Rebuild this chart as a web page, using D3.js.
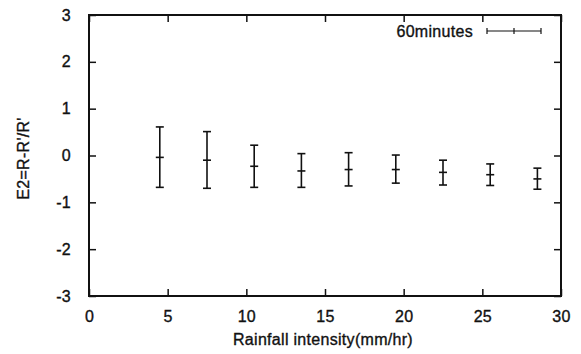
<!DOCTYPE html>
<html>
<head>
<meta charset="utf-8">
<script src="https://cdn.jsdelivr.net/npm/d3@7"></script>
<style>
  body { margin: 0; background: #fff; }
  text { font-family: "Liberation Sans", Arial, sans-serif; fill: #111; }
</style>
</head>
<body>
<div id="Chart"></div>
<script>
// data
var intensity = [4.5, 7.5, 10.5, 13.5, 16.5, 19.5, 22.5, 25.5, 28.5];
var meanE2   = [-0.04, -0.10, -0.23, -0.33, -0.30, -0.30, -0.36, -0.41, -0.50];
var upperE2  = [0.61, 0.51, 0.22, 0.04, 0.06, 0.01, -0.10, -0.18, -0.27];
var lowerE2  = [-0.68, -0.70, -0.68, -0.68, -0.65, -0.59, -0.63, -0.64, -0.72];
var xTicks = [0, 5, 10, 15, 20, 25, 30];
var yTicks = [-3, -2, -1, 0, 1, 2, 3];
var legendLabel = "60minutes";

var margin = {top: 15, right: 20, bottom: 58, left: 89},
    width = 581 - margin.left - margin.right,
    height = 354 - margin.top - margin.bottom;

var svg = d3.select("#Chart")
            .append("svg")
            .attr("width", 581)
            .attr("height", 354);
var g = svg.append("g")
           .attr("transform", "translate(" + margin.left + "," + margin.top + ")");

var x = d3.scaleLinear().domain([0, 30]).range([0, width]);
var y = d3.scaleLinear().domain([-3, 3]).range([height, 0]);

var tickLen = 7;
var fmt = d => String(d);   // plain hyphen, no decimals

// bottom axis with labels, ticks pointing inward
var xAxis = g.append("g")
    .attr("transform", "translate(0," + height + ")")
    .call(d3.axisBottom(x).tickValues(xTicks).tickFormat(fmt).tickSizeInner(-tickLen).tickSizeOuter(0).tickPadding(15));
var yAxis = g.append("g")
    .call(d3.axisLeft(y).tickValues(yTicks).tickFormat(fmt).tickSizeInner(-tickLen).tickSizeOuter(0).tickPadding(18));
// mirrored ticks top and right
var xTop = g.append("g")
    .call(d3.axisTop(x).tickValues(xTicks).tickSizeInner(-tickLen).tickSizeOuter(0).tickFormat(""));
var yRight = g.append("g")
    .attr("transform", "translate(" + width + ",0)")
    .call(d3.axisRight(y).tickValues(yTicks).tickSizeInner(-tickLen).tickSizeOuter(0).tickFormat(""));

[xAxis, yAxis, xTop, yRight].forEach(function(a){
    a.select(".domain").remove();
    a.selectAll(".tick line").attr("stroke", "#111").attr("stroke-width", 1.5);
    a.selectAll(".tick text").attr("class", "lbl").attr("font-size", 16).attr("fill", "#111")
     .style("font-family", "'Liberation Sans', Arial, sans-serif");
});

// frame
g.append("rect")
 .attr("x", 0).attr("y", 0)
 .attr("width", width).attr("height", height)
 .attr("fill", "none")
 .attr("stroke", "#111")
 .attr("stroke-width", 2);

// error bars
var cap = 4;
var bars = g.selectAll(".ebar")
    .data(intensity.map((d, i) => ({x: d, m: meanE2[i], hi: upperE2[i], lo: lowerE2[i]})))
    .enter().append("g")
    .attr("class", "ebar")
    .attr("stroke", "#111")
    .attr("stroke-width", 1.6);

bars.append("line")
    .attr("x1", d => x(d.x)).attr("x2", d => x(d.x))
    .attr("y1", d => y(d.hi)).attr("y2", d => y(d.lo));
bars.append("line")
    .attr("x1", d => x(d.x) - cap).attr("x2", d => x(d.x) + cap)
    .attr("y1", d => y(d.hi)).attr("y2", d => y(d.hi));
bars.append("line")
    .attr("x1", d => x(d.x) - cap).attr("x2", d => x(d.x) + cap)
    .attr("y1", d => y(d.lo)).attr("y2", d => y(d.lo));
bars.append("line")
    .attr("x1", d => x(d.x) - cap).attr("x2", d => x(d.x) + cap)
    .attr("y1", d => y(d.m)).attr("y2", d => y(d.m));

// legend
var lg = g.append("g").attr("transform", "translate(" + (487 - margin.left) + "," + (31 - margin.top) + ")");
lg.append("text")
  .attr("class", "lbl")
  .attr("x", -14).attr("y", 6)
  .attr("text-anchor", "end")
  .attr("font-size", 16)
  .text(legendLabel);
var lgw = 54;
lg.append("line").attr("x1", 0).attr("x2", lgw).attr("y1", 0).attr("y2", 0)
  .attr("stroke", "#111").attr("stroke-width", 1.2);
[0, lgw / 2, lgw].forEach(function(px){
    lg.append("line").attr("x1", px).attr("x2", px).attr("y1", -3).attr("y2", 3)
      .attr("stroke", "#111").attr("stroke-width", 1.2);
});

// axis titles
svg.append("text")
   .attr("class", "lbl")
   .attr("x", margin.left + width / 2 - 2)
   .attr("y", 345)
   .attr("text-anchor", "middle")
   .attr("font-size", 16)
   .text("Rainfall intensity(mm/hr)");
svg.append("text")
   .attr("class", "lbl")
   .attr("transform", "translate(29," + (margin.top + height / 2 + 3) + ") rotate(-90)")
   .attr("text-anchor", "middle")
   .attr("font-size", 16)
   .text("E2=R-R'/R'");

d3.selectAll("text.lbl")
  .attr("stroke", "#111").attr("stroke-width", 0.35)
  .style("letter-spacing", "0.3px");
</script>
</body>
</html>
